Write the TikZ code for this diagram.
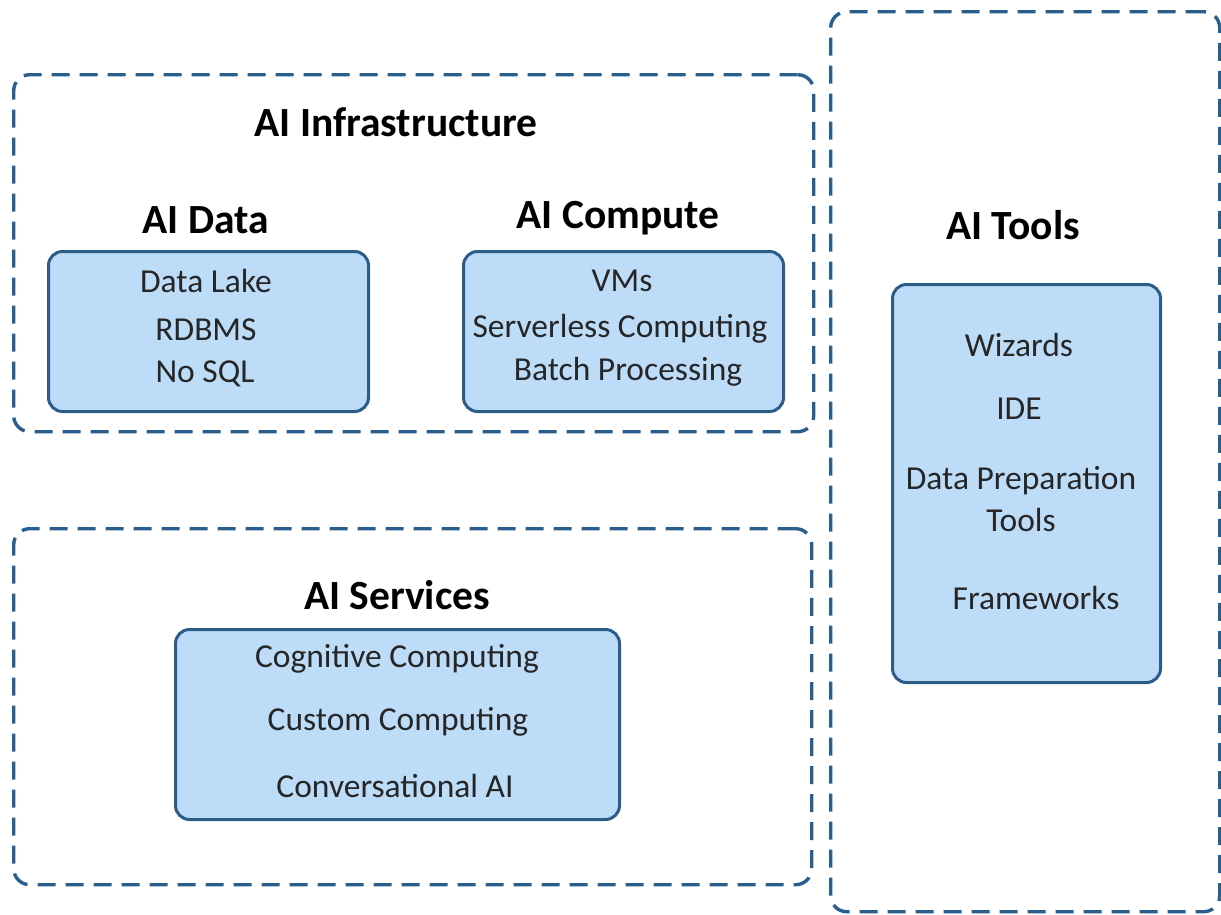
\documentclass[tikz,border=0pt]{standalone}
\usepackage{fontspec}
\setmainfont{Carlito}
\begin{document}
\begin{tikzpicture}[x=1pt,y=-1pt,
  group/.style={draw=groupblue, line width=3.4pt, dash pattern=on 18pt off 10pt,
    rounded corners=16pt, inner sep=0pt, anchor=north west},
  item/.style={draw=itemborder, fill=itemfill, line width=3pt,
    rounded corners=14pt, inner sep=0pt, anchor=north west},
  heading/.style={font=\fontsize{41.5}{48}\selectfont\bfseries, text=black, inner sep=0pt},
  entry/.style={font=\fontsize{33.5}{40}\selectfont, text=black!85, inner sep=0pt}]
\definecolor{groupblue}{RGB}{42,94,140}
\definecolor{itemborder}{RGB}{44,92,136}
\definecolor{itemfill}{RGB}{189,220,248}
\useasboundingbox (0,0) rectangle (1221,914);

% dashed group frames
\node[group, minimum width=800pt, minimum height=357pt] (infra) at (12,73) {};
\node[group, minimum width=798pt, minimum height=356pt] (services) at (12,527) {};
\node[group, minimum width=389pt, minimum height=900pt] (tools) at (829,10) {};

% filled item boxes
\node[item, minimum width=320pt, minimum height=160pt] (data) at (47,250) {};
\node[item, minimum width=320pt, minimum height=160pt] (compute) at (462,250) {};
\node[item, minimum width=444pt, minimum height=190pt] (svc) at (174,628) {};
\node[item, minimum width=268pt, minimum height=398pt] (tl) at (891,283) {};

% headings
\node[heading] (hinfra) at (396,122) {AI Infrastructure};
\node[heading] (hdata) at (206,220) {AI Data};
\node[heading] (hcompute) at (618,218) {AI Compute};
\node[heading] (hsvc) at (397,595) {AI Services};
\node[heading] (htools) at (1013,225) {AI Tools};

% AI Data entries
\node[entry] (d1) at (206,281) {Data Lake};
\node[entry] (d2) at (206,330) {RDBMS};
\node[entry] (d3) at (205,374) {No SQL};

% AI Compute entries
\node[entry] (c1) at (622,281) {VMs};
\node[entry] (c2) at (620,329) {Serverless Computing};
\node[entry] (c3) at (628,372) {Batch Processing};

% AI Services entries
\node[entry] (s1) at (397,659) {Cognitive Computing};
\node[entry] (s2) at (398,722) {Custom Computing};
\node[entry] (s3) at (395,786) {Conversational AI};

% AI Tools entries
\node[entry] (t1) at (1019,345) {Wizards};
\node[entry] (t2) at (1019,409) {IDE};
\node[entry] (t3) at (1021,481) {Data Preparation};
\node[entry] (t4) at (1021,520) {Tools};
\node[entry] (t5) at (1036,598) {Frameworks};
\end{tikzpicture}
\end{document}
